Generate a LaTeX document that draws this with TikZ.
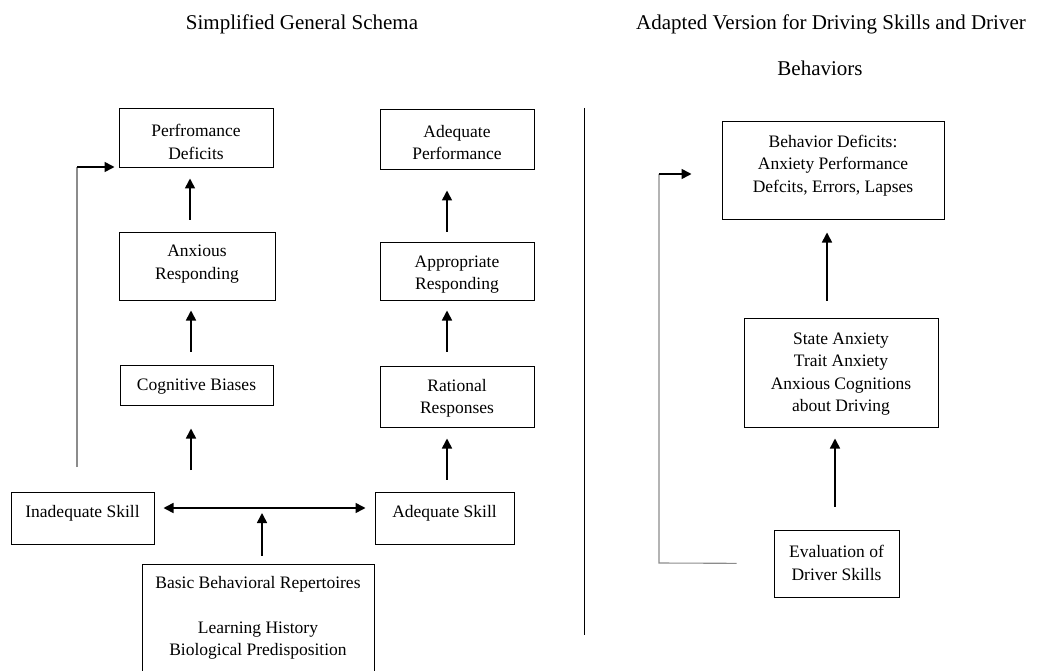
\documentclass[tikz,border=0pt]{standalone}
\usepackage{fontspec}
\setmainfont{Liberation Serif}
\usetikzlibrary{arrows.meta}
\begin{document}
\begin{tikzpicture}[x=1pt,y=-1pt,
  box/.style={draw, line width=1pt, inner sep=0pt},
  txt/.style={align=center, inner sep=0pt, yshift=-2.5pt, font=\fontsize{17.5}{22.5}\selectfont},
  ttl/.style={inner sep=0pt, font=\fontsize{21}{25}\selectfont},
  arr/.style={line width=1.6pt, -{Triangle[length=10pt,width=10pt]}},
  dbl/.style={line width=1.6pt, {Triangle[length=10pt,width=10pt]}-{Triangle[length=10pt,width=10pt]}},
  fb/.style={line width=1.1pt, draw=black!45},
]
\useasboundingbox (0,0) rectangle (1038,671);

% titles
\node[ttl] (t1) at (302,24) {Simplified General Schema};
\node[ttl] (t2) at (831,24) {Adapted Version for Driving Skills and Driver};
\node[ttl] (t3) at (820,68) {Behaviors};

% separator
\draw[line width=1pt] (584,108) -- (584,635);

% ---- left schema: anxious path ----
\node[box, minimum width=154pt, minimum height=59pt] (pd) at (196,138.5) {};
\node[txt] (pdT) at (196,139.5) {Perfromance\\Deficits};
\node[box, minimum width=156pt, minimum height=68pt] (ar) at (197,266) {};
\node[txt] (arT) at (197,261.5) {Anxious\\Responding};
\node[box, minimum width=153pt, minimum height=40pt] (cb) at (196.5,385) {};
\node[txt] (cbT) at (196.5,384) {Cognitive Biases};
\node[box, minimum width=143pt, minimum height=52pt] (is) at (82.5,518) {};
\node[txt] (isT) at (82.5,511) {Inadequate Skill};
\node[box, minimum width=232pt, minimum height=114pt] (bbr) at (258,621) {};
\node[txt] (bbrT) at (258,615.5) {Basic Behavioral Repertoires\\[22pt]Learning History\\Biological Predisposition};

% ---- left schema: adequate path ----
\node[box, minimum width=154pt, minimum height=60pt] (ap) at (457,140) {};
\node[txt] (apT) at (457,140) {Adequate\\Performance};
\node[box, minimum width=154pt, minimum height=58pt] (apr) at (457,271) {};
\node[txt] (aprT) at (457,272) {Appropriate\\Responding};
\node[box, minimum width=154pt, minimum height=61pt] (rr) at (457,396.5) {};
\node[txt] (rrT) at (457,396) {Rational\\Responses};
\node[box, minimum width=139pt, minimum height=52pt] (as) at (444.5,518) {};
\node[txt] (asT) at (444.5,511) {Adequate Skill};

% ---- right schema ----
\node[box, minimum width=222pt, minimum height=97pt] (bd) at (833,170.5) {};
\node[txt] (bdT) at (833,163) {Behavior Deficits:\\Anxiety Performance\\Defcits, Errors, Lapses};
\node[box, minimum width=194pt, minimum height=109pt] (sa) at (841,372.5) {};
\node[txt] (saT) at (841,371.5) {State Anxiety\\Trait Anxiety\\Anxious Cognitions\\about Driving};
\node[box, minimum width=125pt, minimum height=67pt] (ev) at (836.5,563.5) {};
\node[txt] (evT) at (836.5,560.5) {Evaluation of\\Driver Skills};

% ---- connectors, left ----
\draw[arr, shorten <=12pt, shorten >=10pt] ([xshift=-7pt]ar.north) -- ([xshift=-6pt]pd.south);
\draw[arr, shorten <=13pt, shorten >=10pt] ([xshift=-5.5pt]cb.north) -- ([xshift=-6pt]ar.south);
\coordinate (cbIn) at (191,470);
\draw[arr, shorten >=23pt] (cbIn) -- (cbIn |- cb.south);

\draw[arr, shorten <=10pt, shorten >=20pt] ([xshift=-10pt]apr.north) -- ([xshift=-10pt]ap.south);
\draw[arr, shorten <=14pt, shorten >=10pt] ([xshift=-10pt]rr.north) -- ([xshift=-10pt]apr.south);
\draw[arr, shorten <=12pt, shorten >=11pt] ([xshift=2.5pt]as.north) -- ([xshift=-10pt]rr.south);

\draw[dbl, shorten <=9pt, shorten >=9pt] ([yshift=10pt]is.east) -- ([yshift=10pt]as.west);
\coordinate (skMid) at (262,508);
\draw[arr, shorten <=8pt, shorten >=5pt] ([xshift=4pt]bbr.north) -- (skMid);

% feedback from inadequate skill to performance deficits
\coordinate (fbL) at (77,467);
\coordinate (pdIn) at ([yshift=-28.5pt]pd.west);
\draw[fb] (fbL) -- (fbL |- pdIn);
\draw[arr, shorten >=4pt] (fbL |- pdIn) -- (pdIn);

% ---- connectors, right ----
\draw[arr, shorten <=17pt, shorten >=13pt] ([xshift=-14pt]sa.north) -- ([xshift=-6pt]bd.south);
\draw[arr, shorten <=23pt, shorten >=11pt] ([xshift=-1.5pt]ev.north) -- ([xshift=-6pt]sa.south);

\coordinate (fbR) at (659,563);
\coordinate (bdIn) at ([yshift=-3.5pt]bd.west);
\draw[fb, shorten <=37pt] (ev.west) -- (fbR) -- (fbR |- bdIn);
\draw[arr, shorten >=30pt] (fbR |- bdIn) -- (bdIn);
\end{tikzpicture}
\end{document}
